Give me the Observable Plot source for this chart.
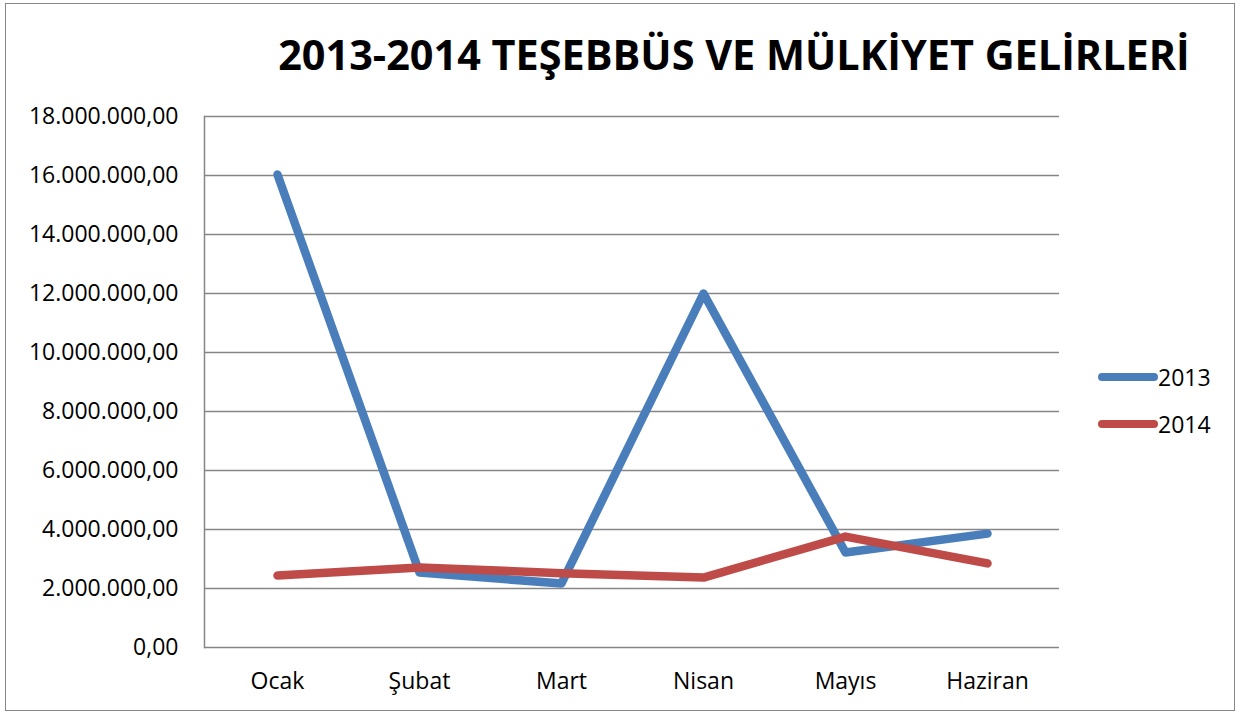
<!DOCTYPE html>
<html>
<head>
<meta charset="utf-8">
<script src="https://cdn.jsdelivr.net/npm/d3@7"></script>
<script src="https://cdn.jsdelivr.net/npm/@observablehq/plot@0.6"></script>
<style>
  html, body { margin: 0; padding: 0; background: #fff; }
  #wrap { position: relative; width: 1239px; height: 714px; overflow: hidden; font-family: "Open Sans", sans-serif; }
  #border { position: absolute; left: 5px; top: 3px; width: 1230px; height: 708px; border: 1px solid #868686; box-sizing: border-box; pointer-events: none; }
  #title { position: absolute; left: 0; top: 26px; width: 1468px; text-align: center; font-weight: 700; font-size: 41.4px; line-height: 56px; color: #000; white-space: nowrap; }
  .leg { position: absolute; left: 1098px; font-size: 23px; line-height: 30px; color: #000; display: flex; align-items: center; }
  .sw { width: 60px; height: 8px; border-radius: 4px; margin-right: 0px; }
  #chart { position: absolute; left: 0; top: 0; }
</style>
</head>
<body>
<div id="wrap">
  <div id="chart"></div>
  <div id="title">2013-2014 TEŞEBBÜS VE MÜLKİYET GELİRLERİ</div>
  <div id="legend"></div>
  <div id="border"></div>
</div>
<script>
const months = ["Ocak", "Şubat", "Mart", "Nisan", "Mayıs", "Haziran"];
const series = ["2013", "2014"];
const values2013 = [16030000, 2540000, 2170000, 12000000, 3220000, 3860000];
const values2014 = [2440000, 2710000, 2520000, 2370000, 3760000, 2850000];
const yTicks = [0, 2000000, 4000000, 6000000, 8000000, 10000000, 12000000, 14000000, 16000000, 18000000];
const colors = ["#4A7EBB", "#BE4B48"];

const rows = [];
months.forEach((m, i) => {
  rows.push({month: m, year: series[0], value: values2013[i]});
  rows.push({month: m, year: series[1], value: values2014[i]});
});

const tr = d3.formatLocale({decimal: ",", thousands: ".", grouping: [3], currency: ["", ""]});
const fmt = tr.format(",.2f");

const chart = Plot.plot({
  width: 1239,
  height: 714,
  marginLeft: 204,
  marginRight: 180,
  marginTop: 116,
  marginBottom: 67,
  style: {fontFamily: "Open Sans, sans-serif", fontSize: "23px", color: "#000", background: "transparent"},
  x: {type: "point", domain: months, padding: 0.5, label: null},
  y: {domain: [0, 18000000], label: null},
  color: {domain: series, range: colors},
  marks: [
    Plot.gridY(yTicks, {stroke: "#868686", strokeOpacity: 1, strokeWidth: 1.5}),
    Plot.frame({anchor: "left", stroke: "#868686", strokeWidth: 1.5}),
    Plot.axisY(yTicks, {tickSize: 0, tickPadding: 26, tickFormat: fmt, fontSize: 23, label: null}),
    Plot.axisX(months, {tickSize: 0, tickPadding: 25, fontSize: 23, label: null}),
    Plot.lineY(rows, {x: "month", y: "value", z: "year", stroke: "year", strokeWidth: 8.5, strokeLinecap: "round", strokeLinejoin: "round"})
  ]
});
document.getElementById("chart").appendChild(chart);

const legend = document.getElementById("legend");
series.forEach((s, i) => {
  const d = document.createElement("div");
  d.className = "leg";
  d.style.top = (362 + i * 47) + "px";
  d.innerHTML = `<div class="sw" style="background:${colors[i]}"></div><span>${s}</span>`;
  legend.appendChild(d);
});
</script>
</body>
</html>
